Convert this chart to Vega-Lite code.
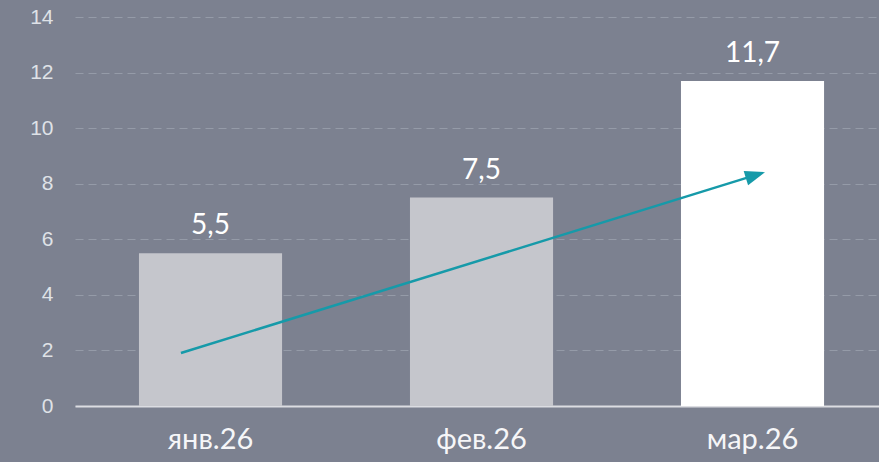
{
  "$schema": "https://vega.github.io/schema/vega-lite/v6.json",
  "width": 804,
  "height": 389,
  "autosize": {"type": "none"},
  "padding": {"left": 75, "top": 17, "right": 0, "bottom": 56},
  "background": "#7c8190",
  "config": {
    "view": {"stroke": null},
    "locale": {"number": {"decimal": ",", "thousands": " ", "grouping": [3], "currency": ["", ""]}}
  },
  "resolve": {"scale": {"x": "independent"}},
  "layer": [
    {
      "data": {"values": [
        {"month": "янв.26", "value": 5.5},
        {"month": "фев.26", "value": 7.5},
        {"month": "мар.26", "value": 11.7}
      ]},
      "layer": [
        {
          "mark": {"type": "bar"},
          "encoding": {
            "x": {"field": "month", "type": "nominal", "sort": null,
              "scale": {"paddingInner": 0.472, "paddingOuter": 0.2194, "align": 0.538},
              "axis": {"title": null, "domainColor": "#dcdde2", "domainWidth": 2, "ticks": false,
                "labelColor": "#f6f6f8", "labelFontSize": 29, "labelFont": "Lato", "labelPadding": 19, "labelAngle": 0, "grid": false}},
            "y": {"field": "value", "type": "quantitative",
              "scale": {"domain": [0, 14], "nice": false},
              "axis": {"title": null, "values": [0, 2, 4, 6, 8, 10, 12, 14], "grid": true, "gridDash": [8, 5],
                "gridColor": "#959ba8", "gridWidth": 1, "domain": false, "ticks": false,
                "labelColor": "#dfe2e7", "labelFontSize": 21, "labelFont": "Liberation Sans", "labelPadding": 22}},
            "color": {"condition": {"test": "datum.month === 'мар.26'", "value": "#ffffff"}, "value": "#c5c6cc"}
          }
        },
        {
          "mark": {"type": "text", "baseline": "alphabetic", "dy": -19, "fontSize": 28, "font": "Lato", "color": "#ffffff"},
          "encoding": {
            "x": {"field": "month", "type": "nominal", "sort": null},
            "y": {"field": "value", "type": "quantitative"},
            "text": {"field": "value", "type": "quantitative", "format": ".1f"}
          }
        }
      ]
    },
    {
      "data": {"values": [
        {"idx": -0.109, "val": 1.907},
        {"idx": 2.011, "val": 8.31}
      ]},
      "layer": [
        {
          "mark": {"type": "line", "color": "#169aa9", "strokeWidth": 2.5},
          "encoding": {
            "x": {"field": "idx", "type": "quantitative", "scale": {"domain": [-0.5, 2.467], "nice": false, "zero": false}, "axis": null},
            "y": {"field": "val", "type": "quantitative"}
          }
        },
        {
          "transform": [{"filter": "datum.idx > 1"}],
          "mark": {"type": "point", "shape": "M1,0L-1,-0.75L-1,0.75Z", "size": 400, "filled": true, "opacity": 1, "color": "#169aa9", "angle": -17.2},
          "encoding": {
            "x": {"field": "idx", "type": "quantitative"},
            "y": {"field": "val", "type": "quantitative"}
          }
        }
      ]
    }
  ]
}
